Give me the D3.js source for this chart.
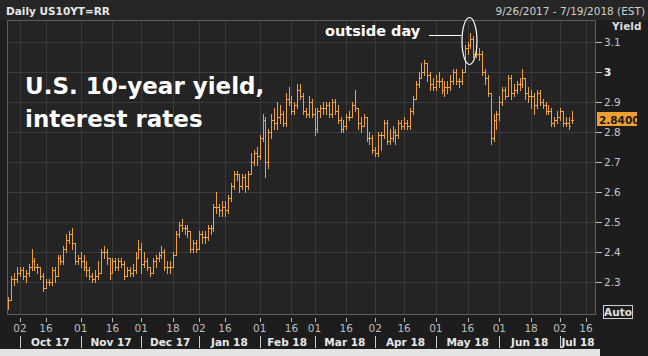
<!DOCTYPE html>
<html><head><meta charset="utf-8">
<script src="https://cdn.jsdelivr.net/npm/d3@7"></script>
<style>html,body{margin:0;padding:0;background:#1c1c1c;} svg{display:block;}</style>
</head><body>
<svg id="chart" width="648" height="356"></svg>
<script>
// ---------------- DATA ----------------
const dates = [
 "2017-09-26","2017-09-27","2017-09-28","2017-09-29",
 "2017-10-02","2017-10-03","2017-10-04","2017-10-05","2017-10-06","2017-10-10","2017-10-11","2017-10-12","2017-10-13","2017-10-16","2017-10-17","2017-10-18","2017-10-19","2017-10-20","2017-10-23","2017-10-24","2017-10-25","2017-10-26","2017-10-27","2017-10-30","2017-10-31",
 "2017-11-01","2017-11-02","2017-11-03","2017-11-06","2017-11-07","2017-11-08","2017-11-09","2017-11-10","2017-11-13","2017-11-14","2017-11-15","2017-11-16","2017-11-17","2017-11-20","2017-11-21","2017-11-22","2017-11-24","2017-11-27","2017-11-28","2017-11-29","2017-11-30",
 "2017-12-01","2017-12-04","2017-12-05","2017-12-06","2017-12-07","2017-12-08","2017-12-11","2017-12-12","2017-12-13","2017-12-14","2017-12-15","2017-12-18","2017-12-19","2017-12-20","2017-12-21","2017-12-22","2017-12-26","2017-12-27","2017-12-28","2017-12-29",
 "2018-01-02","2018-01-03","2018-01-04","2018-01-05","2018-01-08","2018-01-09","2018-01-10","2018-01-11","2018-01-12","2018-01-16","2018-01-17","2018-01-18","2018-01-19","2018-01-22","2018-01-23","2018-01-24","2018-01-25","2018-01-26","2018-01-29","2018-01-30","2018-01-31",
 "2018-02-01","2018-02-02","2018-02-05","2018-02-06","2018-02-07","2018-02-08","2018-02-09","2018-02-12","2018-02-13","2018-02-14","2018-02-15","2018-02-16","2018-02-20","2018-02-21","2018-02-22","2018-02-23","2018-02-26","2018-02-27","2018-02-28",
 "2018-03-01","2018-03-02","2018-03-05","2018-03-06","2018-03-07","2018-03-08","2018-03-09","2018-03-12","2018-03-13","2018-03-14","2018-03-15","2018-03-16","2018-03-19","2018-03-20","2018-03-21","2018-03-22","2018-03-23","2018-03-26","2018-03-27","2018-03-28","2018-03-29",
 "2018-04-02","2018-04-03","2018-04-04","2018-04-05","2018-04-06","2018-04-09","2018-04-10","2018-04-11","2018-04-12","2018-04-13","2018-04-16","2018-04-17","2018-04-18","2018-04-19","2018-04-20","2018-04-23","2018-04-24","2018-04-25","2018-04-26","2018-04-27","2018-04-30",
 "2018-05-01","2018-05-02","2018-05-03","2018-05-04","2018-05-07","2018-05-08","2018-05-09","2018-05-10","2018-05-11","2018-05-14","2018-05-15","2018-05-16","2018-05-17","2018-05-18","2018-05-21","2018-05-22","2018-05-23","2018-05-24","2018-05-25","2018-05-29","2018-05-30","2018-05-31",
 "2018-06-01","2018-06-04","2018-06-05","2018-06-06","2018-06-07","2018-06-08","2018-06-11","2018-06-12","2018-06-13","2018-06-14","2018-06-15","2018-06-18","2018-06-19","2018-06-20","2018-06-21","2018-06-22","2018-06-25","2018-06-26","2018-06-27","2018-06-28","2018-06-29",
 "2018-07-02","2018-07-03","2018-07-05","2018-07-06","2018-07-09"
];
const opens = [
 2.22,2.24,2.31,2.31,
 2.33,2.34,2.32,2.33,2.35,2.37,2.35,2.35,2.32,2.28,2.30,2.30,2.34,2.32,2.38,2.37,2.41,2.44,2.46,2.43,2.37,
 2.38,2.37,2.35,2.34,2.32,2.31,2.32,2.33,2.40,2.40,2.38,2.33,2.37,2.35,2.37,2.36,2.32,2.34,2.33,2.34,2.38,
 2.41,2.36,2.37,2.35,2.33,2.37,2.38,2.39,2.40,2.35,2.35,2.35,2.39,2.46,2.49,2.48,2.48,2.47,2.41,2.43,
 2.41,2.46,2.45,2.45,2.48,2.48,2.55,2.55,2.54,2.55,2.54,2.58,2.62,2.66,2.66,2.62,2.65,2.62,2.66,2.70,2.73,
 2.72,2.78,2.84,2.70,2.80,2.84,2.83,2.85,2.86,2.83,2.91,2.90,2.87,2.89,2.94,2.92,2.87,2.86,2.90,
 2.86,2.81,2.87,2.88,2.88,2.89,2.86,2.90,2.87,2.84,2.81,2.82,2.85,2.85,2.89,2.88,2.83,2.82,2.85,2.78,2.78,
 2.74,2.73,2.79,2.79,2.83,2.77,2.78,2.80,2.79,2.83,2.82,2.83,2.82,2.87,2.91,2.96,2.98,3.00,3.03,2.99,2.96,
 2.95,2.97,2.97,2.94,2.95,2.95,2.97,3.00,2.97,2.97,3.00,3.08,3.09,3.11,3.06,3.06,3.06,3.00,2.98,2.93,2.78,2.84,
 2.86,2.90,2.94,2.92,2.98,2.93,2.94,2.96,2.96,2.98,2.93,2.92,2.92,2.89,2.93,2.90,2.89,2.87,2.87,2.83,2.84,
 2.85,2.87,2.83,2.83,2.84
];
const highs = [
 2.25,2.32,2.33,2.35,
 2.35,2.35,2.34,2.36,2.41,2.38,2.36,2.35,2.33,2.31,2.31,2.35,2.35,2.39,2.39,2.42,2.46,2.47,2.48,2.43,2.39,
 2.40,2.39,2.37,2.35,2.33,2.34,2.37,2.41,2.42,2.41,2.38,2.38,2.38,2.38,2.38,2.37,2.35,2.35,2.36,2.40,2.44,
 2.43,2.40,2.38,2.35,2.38,2.39,2.40,2.42,2.41,2.37,2.37,2.40,2.47,2.50,2.51,2.49,2.49,2.47,2.44,2.44,
 2.47,2.47,2.47,2.49,2.49,2.56,2.60,2.56,2.57,2.57,2.59,2.63,2.67,2.67,2.66,2.66,2.66,2.67,2.73,2.74,2.75,
 2.79,2.86,2.85,2.81,2.86,2.88,2.90,2.89,2.87,2.93,2.95,2.92,2.90,2.96,2.96,2.93,2.88,2.92,2.91,
 2.88,2.88,2.89,2.90,2.90,2.90,2.91,2.91,2.89,2.85,2.84,2.86,2.87,2.90,2.94,2.88,2.85,2.86,2.85,2.80,2.79,
 2.75,2.80,2.80,2.84,2.84,2.81,2.82,2.81,2.84,2.84,2.85,2.84,2.88,2.92,2.97,3.00,3.03,3.04,3.03,3.00,2.98,
 2.99,3.00,2.98,2.97,2.97,2.99,3.01,3.01,2.98,3.01,3.09,3.10,3.13,3.12,3.09,3.08,3.07,3.01,2.99,2.93,2.86,2.87,
 2.92,2.95,2.95,2.99,2.99,2.96,2.97,2.98,3.01,2.98,2.95,2.94,2.93,2.94,2.94,2.91,2.90,2.89,2.88,2.85,2.87,
 2.88,2.87,2.85,2.85,2.87
];
const lows = [
 2.21,2.24,2.29,2.30,
 2.32,2.31,2.30,2.32,2.34,2.34,2.33,2.31,2.27,2.28,2.29,2.29,2.30,2.32,2.36,2.36,2.40,2.43,2.41,2.36,2.36,
 2.35,2.34,2.32,2.31,2.30,2.30,2.31,2.33,2.38,2.36,2.31,2.33,2.34,2.34,2.35,2.31,2.32,2.32,2.32,2.33,2.38,
 2.33,2.35,2.34,2.32,2.33,2.35,2.37,2.38,2.34,2.33,2.33,2.35,2.39,2.45,2.47,2.46,2.45,2.40,2.40,2.40,
 2.41,2.43,2.43,2.44,2.46,2.47,2.53,2.52,2.52,2.52,2.53,2.57,2.61,2.64,2.60,2.61,2.60,2.61,2.66,2.69,2.69,
 2.71,2.77,2.65,2.68,2.78,2.81,2.81,2.83,2.82,2.82,2.89,2.86,2.86,2.88,2.91,2.86,2.85,2.85,2.85,
 2.79,2.80,2.85,2.86,2.86,2.85,2.85,2.86,2.83,2.80,2.80,2.81,2.84,2.85,2.87,2.81,2.80,2.82,2.77,2.76,2.73,
 2.72,2.72,2.74,2.78,2.76,2.76,2.77,2.76,2.78,2.81,2.81,2.81,2.81,2.86,2.91,2.95,2.98,2.99,2.97,2.94,2.94,
 2.94,2.95,2.93,2.92,2.93,2.94,2.96,2.96,2.95,2.96,3.00,3.06,3.08,3.05,3.05,3.04,2.99,2.96,2.92,2.76,2.77,2.81,
 2.84,2.89,2.91,2.92,2.91,2.92,2.93,2.94,2.95,2.91,2.90,2.88,2.86,2.88,2.89,2.88,2.86,2.86,2.82,2.82,2.83,
 2.84,2.82,2.82,2.81,2.83
];
const closes = [
 2.24,2.31,2.31,2.33,
 2.34,2.32,2.33,2.35,2.37,2.35,2.35,2.32,2.28,2.30,2.30,2.34,2.32,2.38,2.37,2.41,2.44,2.46,2.43,2.37,2.38,
 2.37,2.35,2.34,2.32,2.31,2.32,2.33,2.40,2.40,2.38,2.33,2.37,2.35,2.37,2.36,2.32,2.34,2.33,2.34,2.38,2.41,
 2.36,2.37,2.35,2.33,2.37,2.38,2.39,2.40,2.35,2.35,2.35,2.39,2.46,2.49,2.48,2.48,2.47,2.41,2.43,2.41,
 2.46,2.45,2.45,2.48,2.48,2.55,2.55,2.54,2.55,2.54,2.58,2.62,2.66,2.66,2.62,2.65,2.62,2.66,2.70,2.73,2.72,
 2.78,2.84,2.70,2.80,2.84,2.83,2.85,2.86,2.83,2.91,2.90,2.87,2.89,2.94,2.92,2.87,2.86,2.90,2.86,
 2.81,2.87,2.88,2.88,2.89,2.86,2.90,2.87,2.84,2.81,2.82,2.85,2.85,2.89,2.88,2.83,2.82,2.85,2.78,2.78,2.74,
 2.73,2.79,2.79,2.83,2.77,2.78,2.80,2.79,2.83,2.82,2.83,2.82,2.87,2.91,2.96,2.98,3.00,3.03,2.99,2.96,2.95,
 2.97,2.97,2.94,2.95,2.95,2.97,3.00,2.97,2.97,3.00,3.08,3.09,3.11,3.06,3.06,3.06,3.00,2.98,2.93,2.78,2.84,2.86,
 2.90,2.94,2.92,2.98,2.93,2.94,2.96,2.96,2.98,2.93,2.92,2.92,2.89,2.93,2.90,2.89,2.87,2.87,2.83,2.84,2.85,
 2.87,2.83,2.83,2.82,2.84
];
const dayTicks = ["2017-10-02","2017-10-16","2017-11-01","2017-11-16","2017-12-01","2017-12-18","2018-01-02","2018-01-16","2018-02-01","2018-02-16","2018-03-01","2018-03-16","2018-04-02","2018-04-16","2018-05-01","2018-05-16","2018-06-01","2018-06-18","2018-07-02","2018-07-16"];
const monthStarts = ["2017-10-02","2017-11-01","2017-12-01","2018-01-02","2018-02-01","2018-03-01","2018-04-02","2018-05-01","2018-06-01","2018-07-02"];
const monthLabels = ["Oct 17","Nov 17","Dec 17","Jan 18","Feb 18","Mar 18","Apr 18","May 18","Jun 18","Jul 18"];
const yTicks = [2.3,2.4,2.5,2.6,2.7,2.8,2.9,3.0,3.1];
const lastPrice = 2.84;
const titleLeft = "Daily US10YT=RR";
const titleRight = "9/26/2017 - 7/19/2018 (EST)";
const headline = ["U.S. 10-year yield,", "interest rates"];
const annotation = "outside day";
const outsideDay = "2018-05-17";

// ---------------- LAYOUT ----------------
const W = 648, H = 356;
const P = {l: 7, r: 596, t: 20, b: 314};
const ORANGE = "#f0a044";
const svg = d3.select("#chart");
const FONT = "'DejaVu Sans', Verdana, sans-serif";

const base = dates.indexOf("2017-10-02");
function idx(d) {
  const i = dates.indexOf(d);
  if (i >= 0) return i - base;
  let cur = new Date(dates[dates.length - 1] + "T00:00:00Z");
  const target = new Date(d + "T00:00:00Z");
  let n = dates.length - 1 - base;
  while (cur < target) {
    cur = new Date(cur.getTime() + 86400000);
    const wd = cur.getUTCDay();
    if (wd !== 0 && wd !== 6) n++;
  }
  return n;
}
const x = d3.scaleLinear().domain([0, idx("2018-07-02")]).range([20, 560]);
const y = d3.scaleLinear().domain([2.3, 3.1]).range([282, 42]);

// background
svg.append("rect").attr("width", W).attr("height", H).attr("fill", "#1d1d1d");
svg.append("rect").attr("x", 0).attr("y", 0).attr("width", W).attr("height", 20).attr("fill", "#262626");
svg.append("rect").attr("x", P.l).attr("y", P.t).attr("width", P.r - P.l).attr("height", P.b - P.t).attr("fill", "#242424");
svg.append("rect").attr("x", 0).attr("y", 349).attr("width", 600).attr("height", 7).attr("fill", "#e4e4e4");

// grid
const grid = svg.append("g").attr("shape-rendering", "crispEdges").attr("stroke", "#3a3a3a").attr("stroke-width", 1);
grid.selectAll("line.h").data(yTicks).join("line")
  .attr("x1", P.l).attr("x2", P.r)
  .attr("y1", d => Math.round(y(d)) + 0.5).attr("y2", d => Math.round(y(d)) + 0.5);
grid.selectAll("line.v").data(dayTicks).join("line")
  .attr("y1", P.t).attr("y2", P.b)
  .attr("x1", d => Math.round(x(idx(d))) + 0.5).attr("x2", d => Math.round(x(idx(d))) + 0.5);

// OHLC bars
const bars = dates.map((d, i) => ({d, o: opens[i], h: highs[i], l: lows[i], c: closes[i], i: idx(d)}));
const g = svg.append("g").attr("stroke", ORANGE).attr("stroke-width", 1).attr("shape-rendering", "crispEdges");
const bx = b => Math.round(x(b.i)) + 0.5;
g.selectAll("line.hl").data(bars).join("line")
  .attr("x1", bx).attr("x2", bx)
  .attr("y1", b => y(b.h)).attr("y2", b => y(b.l) + 1);
g.selectAll("line.o").data(bars).join("line")
  .attr("x1", b => bx(b) - 1.5).attr("x2", bx)
  .attr("y1", b => Math.round(y(b.o)) + 0.5).attr("y2", b => Math.round(y(b.o)) + 0.5);
g.selectAll("line.c").data(bars).join("line")
  .attr("x1", bx).attr("x2", b => bx(b) + 1.5)
  .attr("y1", b => Math.round(y(b.c)) + 0.5).attr("y2", b => Math.round(y(b.c)) + 0.5);

// plot border
svg.append("rect").attr("x", P.l + 0.5).attr("y", P.t + 0.5).attr("width", P.r - P.l - 1).attr("height", P.b - P.t)
  .attr("fill", "none").attr("stroke", "#5e5e5e").attr("shape-rendering", "crispEdges");

// header
svg.append("text").attr("x", 6).attr("y", 15).attr("fill", "#e6e6e6").attr("font-family", FONT)
  .attr("font-size", 10.5).attr("font-weight", "bold").text(titleLeft);
svg.append("text").attr("x", 645).attr("y", 15).attr("text-anchor", "end").attr("fill", "#cfcfcf")
  .attr("font-family", FONT).attr("font-size", 10.5).text(titleRight);

// right axis
const ya = svg.append("g");
ya.append("text").attr("x", 612).attr("y", 30).attr("fill", "#dcdcdc").attr("font-family", FONT)
  .attr("font-size", 10.5).attr("font-weight", "bold").text("Yield");
ya.selectAll("line").data(yTicks).join("line").attr("shape-rendering", "crispEdges")
  .attr("x1", P.r).attr("x2", P.r + 6)
  .attr("y1", d => Math.round(y(d)) + 0.5).attr("y2", d => Math.round(y(d)) + 0.5)
  .attr("stroke", "#bdbdbd");
ya.selectAll("text.t").data(yTicks).join("text").attr("class", "t")
  .attr("x", 604).attr("y", d => y(d) + 4)
  .attr("fill", d => d === 3 ? "#f0f0f0" : "#c8c8c8")
  .attr("font-family", FONT).attr("font-size", 10.5)
  .attr("font-weight", d => d === 3 ? "bold" : "normal")
  .text(d => d3.format("~g")(d));

// last price box
const ly = y(lastPrice);
svg.append("rect").attr("x", 597).attr("y", Math.round(ly) - 8).attr("width", 40).attr("height", 14).attr("fill", "#f0a030");
svg.append("text").attr("x", 599).attr("y", Math.round(ly) + 3.5).attr("fill", "#1a1a1a").attr("font-family", FONT)
  .attr("font-size", 10.5).attr("font-weight", "bold").text(d3.format(".4f")(lastPrice));

// Auto box
svg.append("rect").attr("x", 603.5).attr("y", 305.5).attr("width", 29).attr("height", 13)
  .attr("fill", "#1d1d1d").attr("stroke", "#d0d0d0").attr("shape-rendering", "crispEdges");
svg.append("text").attr("x", 618).attr("y", 316).attr("text-anchor", "middle").attr("fill", "#e0e0e0")
  .attr("font-family", FONT).attr("font-size", 10.5).attr("font-weight", "bold").text("Auto");

// bottom axis: day ticks
const xa = svg.append("g");
xa.selectAll("line").data(dayTicks).join("line").attr("shape-rendering", "crispEdges")
  .attr("x1", d => Math.round(x(idx(d))) + 0.5).attr("x2", d => Math.round(x(idx(d))) + 0.5)
  .attr("y1", P.b + 4).attr("y2", P.b + 8).attr("stroke", "#bdbdbd");
xa.selectAll("text").data(dayTicks).join("text")
  .attr("x", d => x(idx(d))).attr("y", 332).attr("text-anchor", "middle")
  .attr("fill", "#bdbdbd").attr("font-family", FONT).attr("font-size", 10.5)
  .text(d => d.slice(8));

// month labels and separators
const ms = monthStarts.map(d => x(idx(d)));
const ma = svg.append("g");
ma.selectAll("line").data(ms).join("line").attr("shape-rendering", "crispEdges")
  .attr("x1", d => Math.round(d) + 0.5).attr("x2", d => Math.round(d) + 0.5)
  .attr("y1", 336).attr("y2", 348).attr("stroke", "#cfcfcf");
ma.selectAll("text").data(monthLabels).join("text")
  .attr("x", (d, i) => ((ms[i]) + (i + 1 < ms.length ? ms[i + 1] : P.r)) / 2)
  .attr("y", 346).attr("text-anchor", "middle")
  .attr("fill", "#e8e8e8").attr("font-family", FONT).attr("font-size", 10.5).attr("font-weight", "bold")
  .text(d => d);

// headline
svg.append("text").attr("x", 25).attr("y", 94).attr("fill", "#ffffff").attr("font-family", FONT)
  .attr("font-size", 23).attr("font-weight", "bold").text(headline[0]);
svg.append("text").attr("x", 25).attr("y", 127).attr("fill", "#ffffff").attr("font-family", FONT)
  .attr("font-size", 23).attr("font-weight", "bold").text(headline[1]);

// outside day annotation
const od = bars.find(b => b.d === outsideDay);
const ex = x(od.i) - 1, ey = 41;
svg.append("ellipse").attr("cx", ex).attr("cy", ey).attr("rx", 7.5).attr("ry", 23.5)
  .attr("fill", "none").attr("stroke", "#ffffff").attr("stroke-width", 1.2);
svg.append("line").attr("x1", 429).attr("x2", ex - 8).attr("y1", 35.5).attr("y2", 35.5)
  .attr("stroke", "#ffffff").attr("stroke-width", 1).attr("shape-rendering", "crispEdges");
svg.append("text").attr("x", 325).attr("y", 36).attr("fill", "#ffffff").attr("font-family", FONT)
  .attr("font-size", 14.5).attr("font-weight", "bold").text(annotation);
</script>
</body></html>
